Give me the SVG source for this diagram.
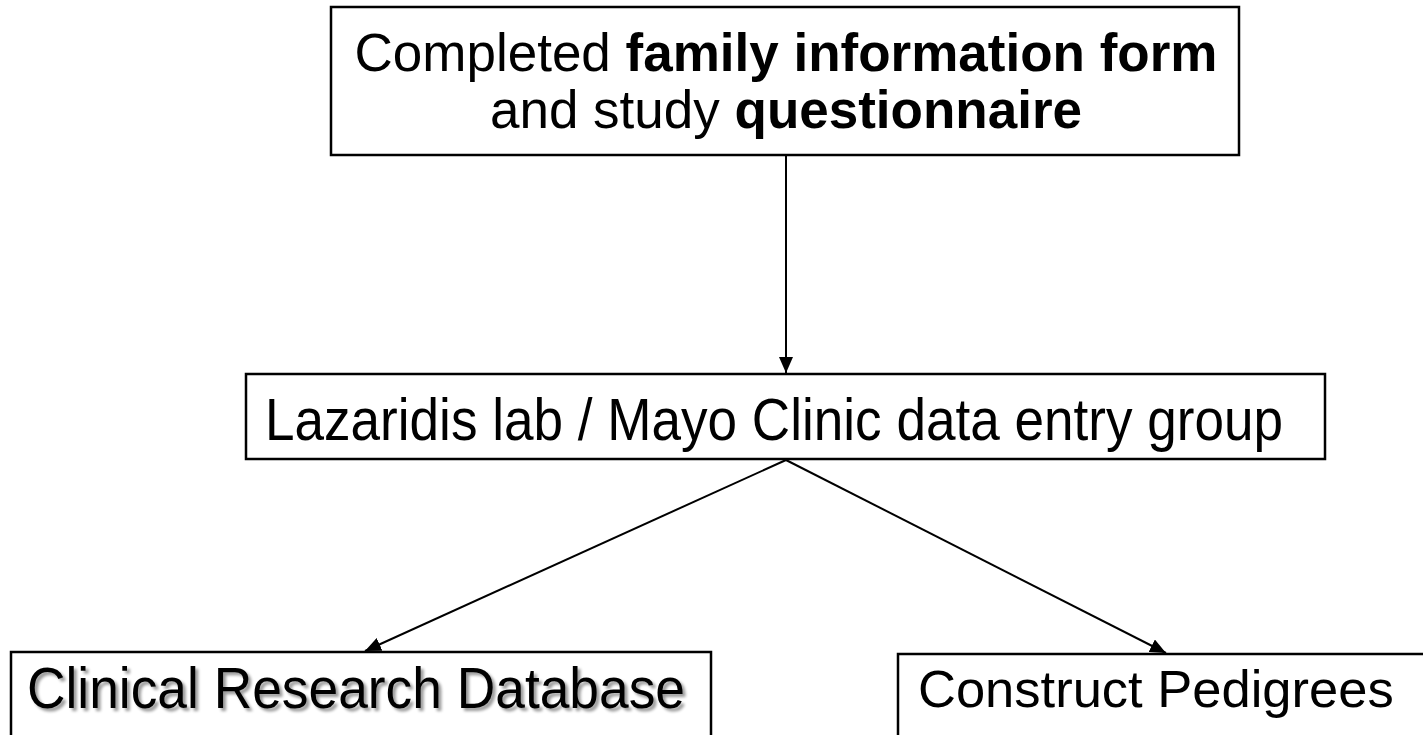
<svg xmlns="http://www.w3.org/2000/svg" width="1423" height="735" viewBox="0 0 1423 735">
<style>
.box{fill:#fff;stroke:#000;stroke-width:2.5}
.t{font-family:"Liberation Sans",Arial,sans-serif;fill:#000}
.b{font-weight:bold}
.c{stroke:#000;stroke-width:2;fill:none}
</style>
<defs>
<marker id="ah" viewBox="0 0 16 14" refX="16" refY="7" markerWidth="16" markerHeight="14" markerUnits="userSpaceOnUse" orient="auto">
<path d="M0,0 L16,7 L0,14 z" fill="#000"/>
</marker>
<filter id="sh" x="-5%" y="-20%" width="110%" height="140%">
<feGaussianBlur in="SourceAlpha" stdDeviation="1.5"/>
<feOffset dx="3" dy="3" result="o"/>
<feComponentTransfer><feFuncA type="linear" slope="0.4"/></feComponentTransfer>
<feMerge><feMergeNode/><feMergeNode in="SourceGraphic"/></feMerge>
</filter>
</defs>
<rect width="1423" height="735" fill="#fff"/>
<g id="connectors">
<line class="c" x1="786" y1="156" x2="786" y2="373" marker-end="url(#ah)"/>
<line class="c" x1="786" y1="460" x2="365" y2="651" marker-end="url(#ah)"/>
<line class="c" x1="786" y1="460" x2="1166" y2="653" marker-end="url(#ah)"/>
</g>
<g id="node-top">
<rect class="box" x="331" y="7" width="908" height="148"/>
<text class="t" x="786" y="71" font-size="53" text-anchor="middle">Completed <tspan class="b">family information form</tspan></text>
<text class="t" x="786" y="128" font-size="53" text-anchor="middle">and study <tspan class="b">questionnaire</tspan></text>
</g>
<g id="node-middle">
<rect class="box" x="246" y="374" width="1079" height="85"/>
<text class="t" x="265" y="440" font-size="60" textLength="1018" lengthAdjust="spacingAndGlyphs">Lazaridis lab / Mayo Clinic data entry group</text>
</g>
<g id="node-left">
<rect class="box" x="11" y="652" width="700" height="100"/>
<text class="t" x="27" y="708" font-size="58" textLength="658" lengthAdjust="spacingAndGlyphs" filter="url(#sh)">Clinical Research Database</text>
</g>
<g id="node-right">
<rect class="box" x="898" y="654" width="540" height="100"/>
<text class="t" x="918" y="707" font-size="52.5">Construct Pedigrees</text>
</g>
</svg>
